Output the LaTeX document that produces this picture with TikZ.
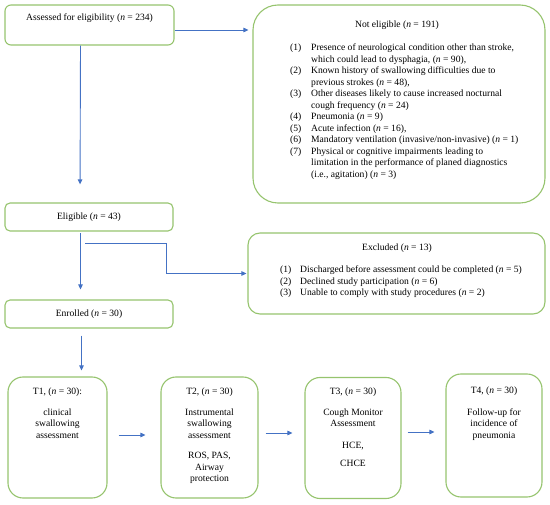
\documentclass[tikz,border=0pt]{standalone}
\usepackage{fontspec}
\setmainfont{Liberation Serif}
\usetikzlibrary{arrows.meta}
\definecolor{boxgreen}{RGB}{150,196,110}
\definecolor{arrowblue}{RGB}{68,114,196}
\newcommand\itn{\textit{n}}
\begin{document}
\begin{tikzpicture}[x=1pt,y=-1pt,
  box/.style={draw=boxgreen, line width=1.1pt, inner sep=0pt, fill=white},
  arr/.style={draw=arrowblue, line width=0.9pt, -{Triangle[length=5pt,width=4.5pt]}},
  txt/.style={inner sep=0pt, font=\fontsize{9.6}{11.5}\selectfont},
]
\useasboundingbox (0,0) rectangle (550,505);
% boxes
\node[box, rounded corners=6pt, minimum width=169pt, minimum height=40pt] (assess) at (89.5,25) {};
\node[box, rounded corners=25pt, minimum width=292pt, minimum height=198pt] (notel) at (399,104) {};
\node[box, rounded corners=5pt, minimum width=168pt, minimum height=28pt, txt] (elig) at (89,217) {Eligible (\itn{} = 43)};
\node[box, rounded corners=12pt, minimum width=297pt, minimum height=81pt] (excl) at (396.5,273.5) {};
\node[box, rounded corners=5pt, minimum width=168pt, minimum height=28pt, txt] (enrol) at (89,314) {Enrolled (\itn{} = 30)};
\node[box, rounded corners=15pt, minimum width=99pt, minimum height=121pt] (t1) at (57.5,437.5) {};
\node[box, rounded corners=15pt, minimum width=97pt, minimum height=121pt] (t2) at (209.5,437.5) {};
\node[box, rounded corners=15pt, minimum width=96pt, minimum height=121pt] (t3) at (353,438) {};
\node[box, rounded corners=15pt, minimum width=96pt, minimum height=123pt] (t4) at (494,435.5) {};
% texts
\node[txt, anchor=base] (assesst) at (89.5,21) {Assessed for eligibility (\itn{} = 234)};
\node[txt, anchor=base] (notelh) at (397,28) {Not eligible (\itn{} = 191)};
\node[txt, anchor=base west] (notell) at (290,51) {\begin{tabular}[t]{@{}p{21pt}@{}l@{}}
(1) & Presence of neurological condition other than stroke,\\
 & which could lead to dysphagia, (\itn{} = 90),\\
(2) & Known history of swallowing difficulties due to\\
 & previous strokes (\itn{} = 48),\\
(3) & Other diseases likely to cause increased nocturnal\\
 & cough frequency (\itn{} = 24)\\
(4) & Pneumonia (\itn{} = 9)\\
(5) & Acute infection (\itn{} = 16),\\
(6) & Mandatory ventilation (invasive/non-invasive) (\itn{} = 1)\\
(7) & Physical or cognitive impairments leading to\\
 & limitation in the performance of planed diagnostics\\
 & (i.e., agitation) (\itn{} = 3)
\end{tabular}};
\node[txt, anchor=base] (exclh) at (397,251) {Excluded (\itn{} = 13)};
\node[txt, anchor=base west] (excll) at (280,273) {\begin{tabular}[t]{@{}p{20pt}@{}l@{}}
(1) & Discharged before assessment could be completed (\itn{} = 5)\\
(2) & Declined study participation (\itn{} = 6)\\
(3) & Unable to comply with study procedures (\itn{} = 2)
\end{tabular}};
\node[txt, anchor=base] (t1t) at (57.5,395) {\begin{tabular}[t]{@{}c@{}}
T1, (\itn{} = 30):\\[9pt]
clinical\\ swallowing\\ assessment
\end{tabular}};
\node[txt, anchor=base] (t2t) at (209.5,395) {\begin{tabular}[t]{@{}c@{}}
T2, (\itn{} = 30)\\[9pt]
Instrumental\\ swallowing\\ assessment\\[9pt]
ROS, PAS,\\ Airway\\ protection
\end{tabular}};
\node[txt, anchor=base] (t3t) at (353,395) {\begin{tabular}[t]{@{}c@{}}
T3, (\itn{} = 30)\\[9pt]
Cough Monitor\\ Assessment\\[10pt]
HCE,\\[7pt]
CHCE
\end{tabular}};
\node[txt, anchor=base] (t4t) at (494,394) {\begin{tabular}[t]{@{}c@{}}
T4, (\itn{} = 30)\\[10pt]
Follow-up for\\ incidence of\\ pneumonia
\end{tabular}};
% connectors
\draw[arr, shorten >=4pt] ([yshift=-5pt]assess.east) -- ([yshift=-5pt]assess.east -| notel.west);
\draw[arr, shorten >=18pt] ([xshift=-9pt]assess.south) -- ([xshift=-9pt]elig.north);
\draw[arr, shorten <=1.5pt, shorten >=10pt] ([xshift=-8.5pt]elig.south) -- ([xshift=-8.5pt]enrol.north);
\coordinate (br) at (85,243);
\draw[arr, shorten >=1pt] (br) -- ++(81,0) |- (excl.west);
\draw[arr, shorten <=7pt, shorten >=6pt] ([xshift=-7.5pt]enrol.south) -- ([xshift=-7.5pt]enrol.south |- t1.north);
\draw[arr, shorten <=11pt, shorten >=15pt] ([yshift=2.5pt]t1.east) -- ([yshift=2.5pt]t1.east -| t2.west);
\draw[arr, shorten <=7pt, shorten >=12pt] ([yshift=4.5pt]t2.east) -- ([yshift=4.5pt]t2.east -| t3.west);
\draw[arr, shorten <=6pt, shorten >=11pt] ([yshift=6pt]t3.east) -- ([yshift=6pt]t3.east -| t4.west);
\end{tikzpicture}
\end{document}
